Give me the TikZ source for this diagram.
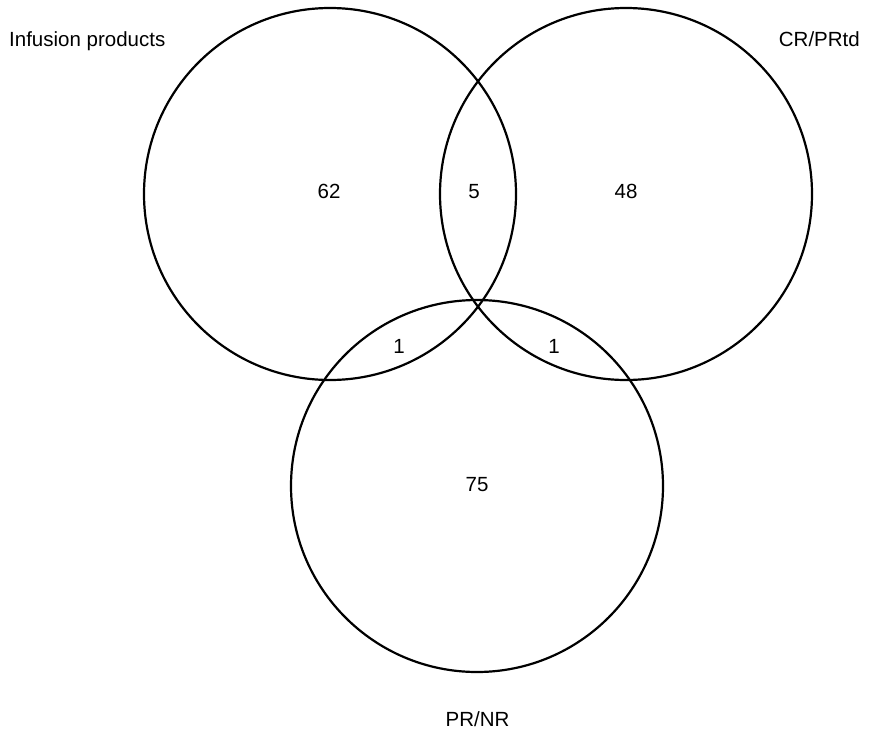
\documentclass[tikz,border=0pt]{standalone}
\usepackage{fontspec}
\setmainfont{Liberation Sans}
\begin{document}
\begin{tikzpicture}[x=1pt,y=-1pt,
  vset/.style={circle,draw=black,line width=2.2pt,minimum size=372pt,inner sep=0pt},
  lbl/.style={inner sep=0pt,font=\fontsize{20.5pt}{24pt}\selectfont},
  num/.style={inner sep=0pt,anchor=base,font=\fontsize{20.5pt}{24pt}\selectfont}]
\useasboundingbox (0,0) rectangle (869,731);
\node[vset] (A) at (330,194) {};
\node[vset] (B) at (626,194) {};
\node[vset] (C) at (477,486) {};
\node[lbl,anchor=base west] (tA) at (9,46) {Infusion products};
\node[lbl,anchor=base east] (tB) at (860,46) {CR/PRtd};
\node[lbl,anchor=base] (tC) at (477.5,726) {PR/NR};
\node[num] (nA) at (329,198) {62};
\node[num] (nAB) at (474,198) {5};
\node[num] (nB) at (626,198) {48};
\node[num] (nAC) at (399,353) {1};
\node[num] (nBC) at (554,353) {1};
\node[num] (nC) at (477,491) {75};
\end{tikzpicture}
\end{document}
